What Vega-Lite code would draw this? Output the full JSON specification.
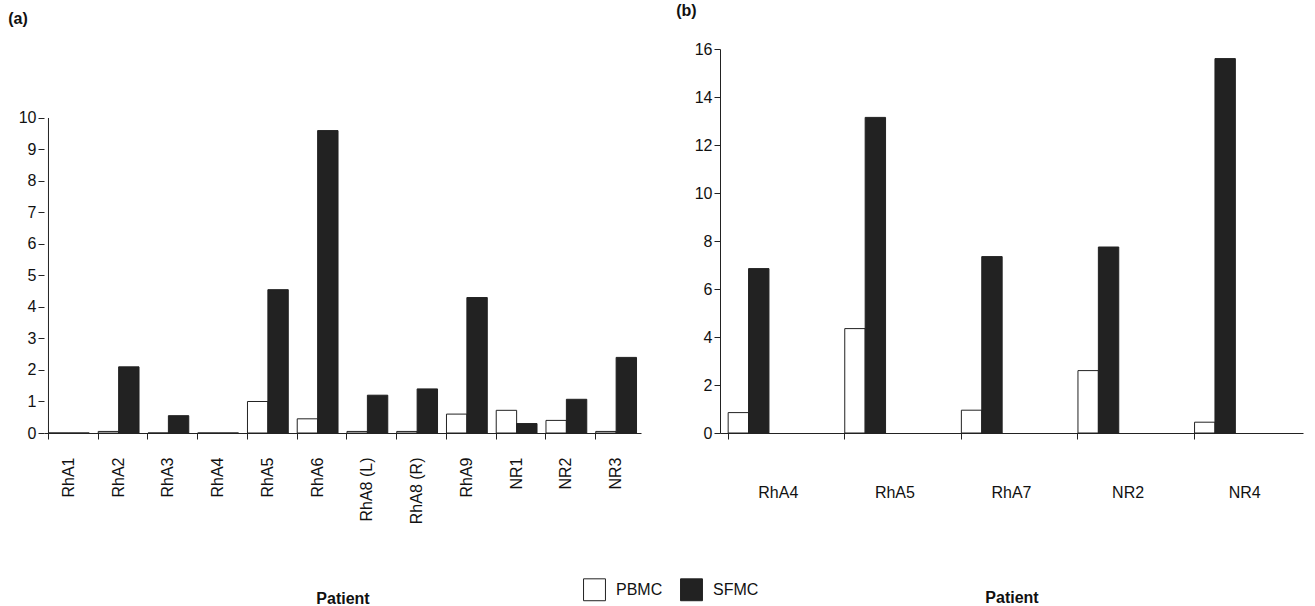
{
  "$schema": "https://vega.github.io/schema/vega-lite/v6.json",
  "padding": {"left": 8, "top": 3, "right": 5, "bottom": 0},
  "config": {
    "font": "Liberation Sans",
    "view": {"stroke": null},
    "axis": {"grid": false, "domainColor": "#222", "tickColor": "#222", "labelColor": "#111", "labelFontSize": 16, "titleFontSize": 16, "titleFontWeight": "bold", "titleColor": "#111", "tickSize": 6, "labelOverlap": false},
    "title": {"fontSize": 16, "fontWeight": "bold", "anchor": "start", "color": "#111"}
  },
  "datasets": {
    "a": [
      {"patient": "RhA1", "cell": "PBMC", "value": 0}, {"patient": "RhA1", "cell": "SFMC", "value": 0},
      {"patient": "RhA2", "cell": "PBMC", "value": 0.05}, {"patient": "RhA2", "cell": "SFMC", "value": 2.1},
      {"patient": "RhA3", "cell": "PBMC", "value": 0}, {"patient": "RhA3", "cell": "SFMC", "value": 0.55},
      {"patient": "RhA4", "cell": "PBMC", "value": 0}, {"patient": "RhA4", "cell": "SFMC", "value": 0},
      {"patient": "RhA5", "cell": "PBMC", "value": 1.0}, {"patient": "RhA5", "cell": "SFMC", "value": 4.55},
      {"patient": "RhA6", "cell": "PBMC", "value": 0.45}, {"patient": "RhA6", "cell": "SFMC", "value": 9.6},
      {"patient": "RhA8 (L)", "cell": "PBMC", "value": 0.05}, {"patient": "RhA8 (L)", "cell": "SFMC", "value": 1.2},
      {"patient": "RhA8 (R)", "cell": "PBMC", "value": 0.05}, {"patient": "RhA8 (R)", "cell": "SFMC", "value": 1.4},
      {"patient": "RhA9", "cell": "PBMC", "value": 0.6}, {"patient": "RhA9", "cell": "SFMC", "value": 4.3},
      {"patient": "NR1", "cell": "PBMC", "value": 0.72}, {"patient": "NR1", "cell": "SFMC", "value": 0.3},
      {"patient": "NR2", "cell": "PBMC", "value": 0.4}, {"patient": "NR2", "cell": "SFMC", "value": 1.07},
      {"patient": "NR3", "cell": "PBMC", "value": 0.05}, {"patient": "NR3", "cell": "SFMC", "value": 2.4}
    ],
    "b": [
      {"patient": "RhA4", "cell": "PBMC", "value": 0.85}, {"patient": "RhA4", "cell": "SFMC", "value": 6.85},
      {"patient": "RhA5", "cell": "PBMC", "value": 4.35}, {"patient": "RhA5", "cell": "SFMC", "value": 13.15},
      {"patient": "RhA7", "cell": "PBMC", "value": 0.95}, {"patient": "RhA7", "cell": "SFMC", "value": 7.35},
      {"patient": "NR2", "cell": "PBMC", "value": 2.6}, {"patient": "NR2", "cell": "SFMC", "value": 7.75},
      {"patient": "NR4", "cell": "PBMC", "value": 0.45}, {"patient": "NR4", "cell": "SFMC", "value": 15.6}
    ]
  },
  "hconcat": [
    {
      "title": {"text": "(a)", "dx": -10, "offset": 22},
      "width": 597,
      "height": 384,
      "data": {"name": "a"},
      "layer": [
        {
          "mark": {"type": "bar", "stroke": "#222", "strokeWidth": 1},
          "encoding": {
            "x": {"field": "patient", "type": "nominal", "sort": null, "title": "Patient",
              "scale": {"paddingInner": 0.18, "paddingOuter": 0.09},
              "axis": {"labelAngle": -90, "labelAlign": "right", "labelBaseline": "middle", "labelPadding": 18, "bandPosition": 0, "titlePadding": 67}},
            "xOffset": {"field": "cell", "type": "nominal"},
            "y": {"field": "value", "type": "quantitative", "title": null,
              "scale": {"domain": [0, 12.19], "nice": false},
              "axis": {"values": [0, 1, 2, 3, 4, 5, 6, 7, 8, 9, 10], "domain": false}},
            "fill": {"field": "cell", "type": "nominal",
              "scale": {"domain": ["PBMC", "SFMC"], "range": ["#ffffff", "#222222"]},
              "legend": {"title": null, "orient": "none", "legendX": 539, "legendY": 529, "direction": "horizontal", "symbolType": "square", "symbolSize": 480, "symbolStrokeColor": "#222", "symbolStrokeWidth": 1, "labelFontSize": 16, "labelColor": "#111", "columnPadding": 15, "labelOffset": 10}}
          }
        },
        {
          "transform": [{"filter": "datum.patient == 'RhA1' && datum.cell == 'PBMC'"}],
          "mark": {"type": "rule", "color": "#222", "strokeWidth": 1},
          "encoding": {
            "x": {"field": "patient", "type": "nominal", "sort": null, "bandPosition": 0},
            "y": {"datum": 0, "type": "quantitative", "axis": {"values": [0, 1, 2, 3, 4, 5, 6, 7, 8, 9, 10], "domain": false}},
            "y2": {"datum": 10}
          }
        }
      ]
    },
    {
      "title": {"text": "(b)", "dx": -18, "offset": 22},
      "data": {"name": "b"},
      "width": 583,
      "height": 384,
      "mark": {"type": "bar", "stroke": "#222", "strokeWidth": 1},
      "encoding": {
        "x": {"field": "patient", "type": "nominal", "sort": null, "title": "Patient",
          "scale": {"paddingInner": 0.14, "paddingOuter": 0.07},
          "axis": {"labelAngle": 0, "labelPadding": 45, "bandPosition": 0, "titlePadding": 89}},
        "xOffset": {"field": "cell", "type": "nominal"},
        "y": {"field": "value", "type": "quantitative", "title": null,
          "scale": {"domain": [0, 16], "nice": false},
          "axis": {"values": [0, 2, 4, 6, 8, 10, 12, 14, 16]}},
        "fill": {"field": "cell", "type": "nominal",
          "scale": {"domain": ["PBMC", "SFMC"], "range": ["#ffffff", "#222222"]}, "legend": null}
      }
    }
  ],
  "spacing": 35
}
